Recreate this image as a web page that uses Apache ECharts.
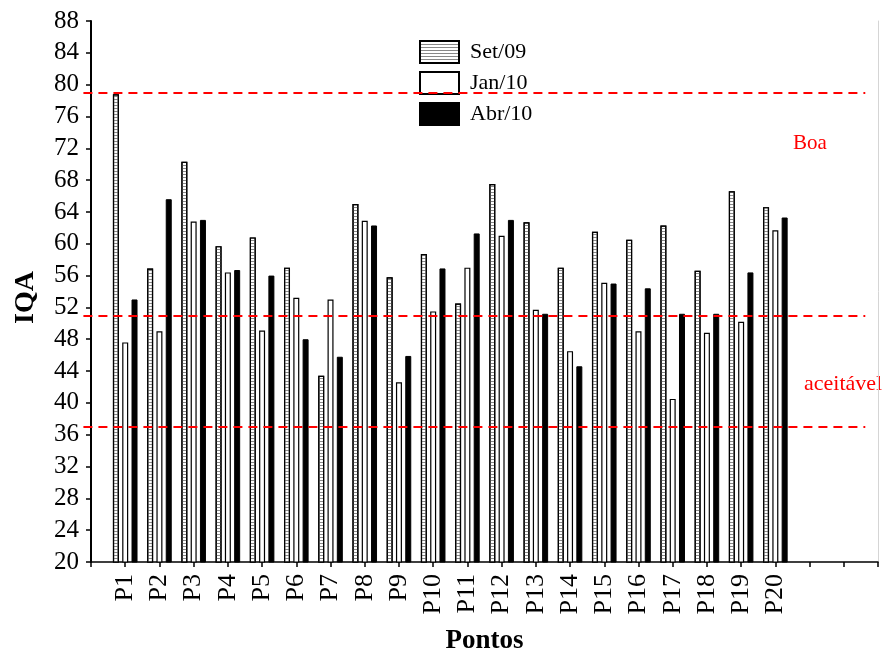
<!DOCTYPE html>
<html><head><meta charset="utf-8">
<script src="https://cdn.jsdelivr.net/npm/echarts@6/dist/echarts.min.js"></script>
<style>html,body{margin:0;padding:0;background:#fff}#c{width:883px;height:656px}</style>
</head><body><div id="c"></div>
<script>
const categories = ['P1','P2','P3','P4','P5','P6','P7','P8','P9','P10','P11','P12','P13','P14','P15','P16','P17','P18','P19','P20'];
const seriesNames = ['Set/09','Jan/10','Abr/10'];
const set09 = [78.8,56.9,70.3,59.7,60.8,57.0,43.4,65.0,55.8,58.7,52.5,67.5,62.7,57.0,61.5,60.5,62.3,56.6,66.6,64.6];
const jan10 = [47.6,49.0,62.8,56.4,49.1,53.2,53.0,62.9,42.6,51.5,57.0,61.0,51.7,46.5,55.1,49.0,40.5,48.8,50.2,61.7];
const abr10 = [53.0,65.6,63.0,56.7,56.0,48.0,45.8,62.3,45.9,56.9,61.3,63.0,51.2,44.6,55.0,54.4,51.2,51.2,56.4,63.3];
const yTicks = {min:20, max:88, step:4};
const thresholds = [79, 51, 37];
const zoneLabels = ['Boa','aceitável'];

const font = 'Liberation Serif, Times New Roman, serif';
const toData = arr => arr.map((v,i)=>[i+1, v]);
const lineData = thresholds.map(t => [{coord:[0.05, t]}, {coord:[22.9, t]}]);

const chart = echarts.init(document.getElementById('c'));
chart.setOption({
  animation:false,
  backgroundColor:'#fff',
  grid:{left:91, right:5, top:21, bottom:94, containLabel:false, outerBoundsMode:'none'},
  legend:{
    orient:'vertical', left:414, top:35, itemWidth:39, itemHeight:22, itemGap:7,
    textStyle:{fontFamily:font, fontSize:22, color:'#000', padding:[0,0,0,6]},
    data:seriesNames.map(n=>({name:n, icon:'rect'}))
  },
  xAxis:{
    type:'value', min:0, max:23, interval:1,
    name:'Pontos', nameLocation:'middle', nameGap:66,
    nameTextStyle:{fontFamily:font, fontSize:27, fontWeight:'bold', color:'#000'},
    axisLine:{lineStyle:{color:'#000', width:1.5}},
    axisTick:{inside:false, length:5, lineStyle:{color:'#000', width:1.5}},
    axisLabel:{rotate:90, margin:12, fontFamily:font, fontSize:26, color:'#000',
      formatter:v => (v>=1 && v<=categories.length) ? categories[v-1] : ''},
    splitLine:{show:false}
  },
  yAxis:[{
    type:'value', min:yTicks.min, max:yTicks.max, interval:yTicks.step,
    name:'IQA', nameLocation:'middle', nameGap:51, nameRotate:90,
    nameTextStyle:{fontFamily:font, fontSize:28, fontWeight:'bold', color:'#000', padding:[0,12,0,0]},
    axisLine:{show:true, lineStyle:{color:'#000', width:2}},
    axisTick:{show:true, length:5, lineStyle:{color:'#000', width:1.5}},
    axisLabel:{fontFamily:font, fontSize:25, color:'#000', margin:12},
    splitLine:{show:false}
  },{
    type:'value', min:yTicks.min, max:yTicks.max, interval:yTicks.step, position:'right',
    axisLine:{show:true, lineStyle:{color:'#d5d5d5', width:1}},
    axisTick:{show:false}, axisLabel:{show:false}, splitLine:{show:false}
  }],
  series:[
    {name:seriesNames[0], type:'bar', data:toData(set09), barWidth:6, barGap:'55%',
      itemStyle:{color:'#fff', borderColor:'#000', borderWidth:1.2,
        decal:{symbol:'rect', symbolSize:1, dashArrayX:[1,0], dashArrayY:[1,2], color:'#888', rotation:0}},
      markLine:{silent:true, symbol:'none', label:{show:false},
        lineStyle:{color:'#ff0000', type:[9,6], width:2}, data:lineData}
    },
    {name:seriesNames[1], type:'bar', data:toData(jan10), barWidth:6, barGap:'55%',
      itemStyle:{color:'#fff', borderColor:'#000', borderWidth:1.2}},
    {name:seriesNames[2], type:'bar', data:toData(abr10), barWidth:6, barGap:'55%',
      itemStyle:{color:'#000', borderColor:'#000', borderWidth:1}}
  ],
  graphic:[
    {type:'text', left:793, top:133, style:{text:zoneLabels[0], fill:'#ff0000', font:'21px '+font}},
    {type:'text', left:804, top:373, style:{text:zoneLabels[1], fill:'#ff0000', font:'22px '+font}}
  ]
});
</script></body></html>
